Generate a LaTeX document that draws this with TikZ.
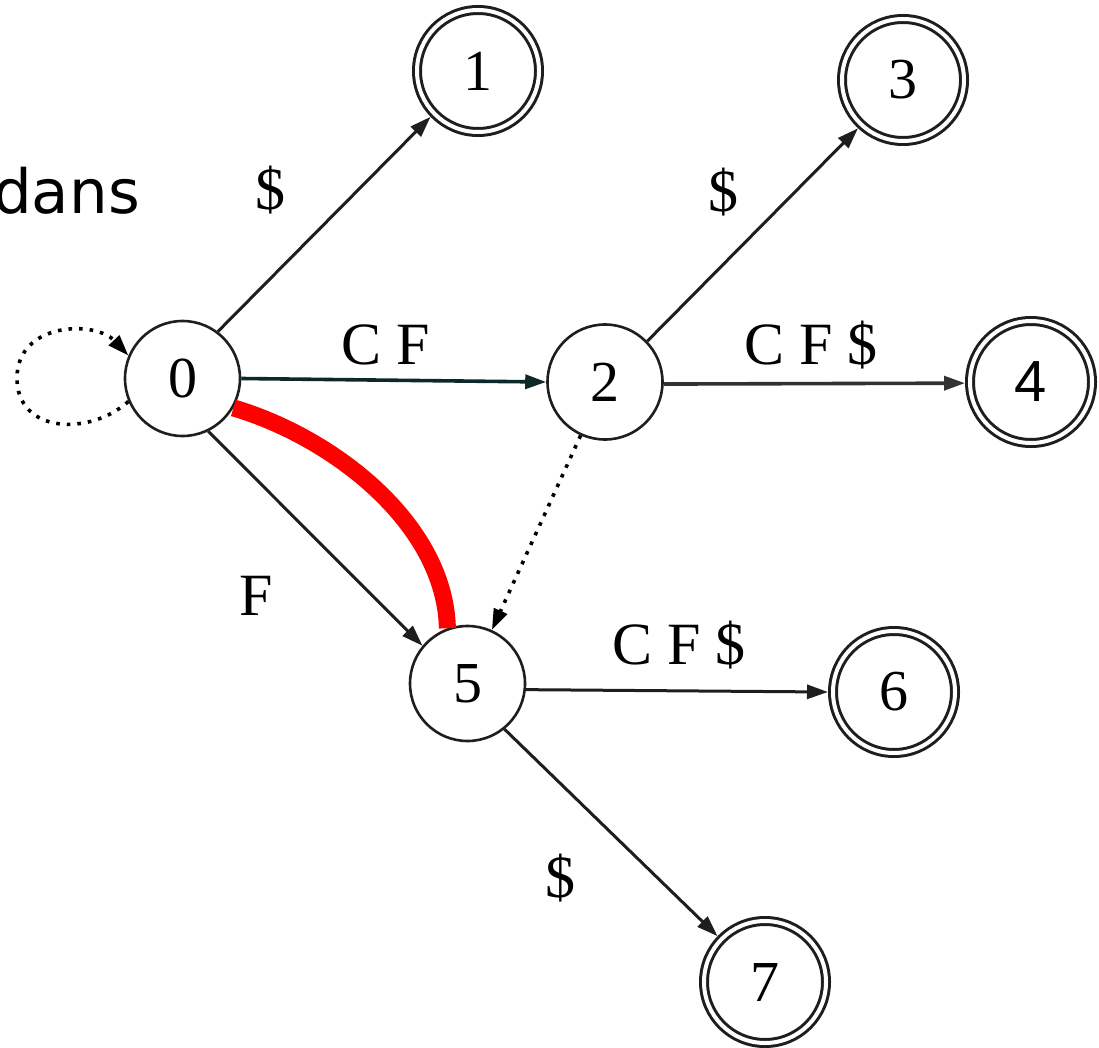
\documentclass[tikz,border=0pt]{standalone}
\usepackage{fontspec}
\setmainfont{Liberation Serif}
\newfontfamily\dejavu{DejaVu Sans}
\newfontfamily\libsans{Liberation Sans}
\usetikzlibrary{arrows.meta}
\definecolor{edgecol}{RGB}{30,30,30}
\definecolor{tealcol}{RGB}{12,40,40}
\definecolor{graycol}{RGB}{50,50,50}
\begin{document}
\begin{tikzpicture}[x=1pt,y=-1pt,
  state/.style={circle,draw=edgecol,line width=2.6pt,minimum size=115pt,inner sep=0pt,
    font=\fontsize{58}{60}\selectfont},
  accept/.style={circle,draw=edgecol,line width=3pt,double=white,double distance=4pt,
    minimum size=122pt,inner sep=0pt,outer sep=5pt,font=\fontsize{58}{60}\selectfont},
  lbl/.style={font=\fontsize{60}{62}\selectfont,inner sep=0pt},
  tip/.style={-{Triangle[length=21pt,width=14pt]}},
  edge/.style={tip,draw=edgecol,line width=3pt},
  dots/.style={tip,draw=black,line width=3.6pt,dash pattern=on 3.6pt off 7pt}
]
\useasboundingbox (0,0) rectangle (1099,1048);

\node[state]  (q0) at (182.5,378.5) {0};
\node[accept] (q1) at (478,71) {1};
\node[state]  (q2) at (605,382) {2};
\node[accept] (q3) at (903,80) {3};
\node[accept] (q4) at (1031,382) {\libsans 4};
\node[state]  (q5) at (467.5,683.5) {5};
\node[accept] (q6) at (894,692) {6};
\node[accept] (q7) at (765,982) {7};

\node[anchor=base east,inner sep=0pt,font=\dejavu\fontsize{61}{63}\selectfont] (dans) at (140,214) {dans};

% red arc
\draw[red,line width=17pt] (q0.-30) .. controls (335,438) and (445,525) .. (q5.110);

% edges
\draw[edge] (q0.53) -- (q1.224);
\draw[tip,draw=tealcol,line width=3.6pt] (q0.0) -- (q2.180);
\draw[edge] (q0.-64.5) -- (q5.140);
\draw[edge] (q2.44) -- (q3.227);
\draw[tip,draw=graycol,line width=3.6pt] (q2.-2) -- (q4.181);
\draw[edge] (q5.-6) -- (q6.180);
\draw[edge] (q5.-51.6) -- (q7.136);

% dotted
\draw[dots] (q2) -- (q5);
\coordinate (loopleft) at (17,378);
\draw[dots] (q0.203) .. controls (90,436) and (17,434) .. (loopleft)
  .. controls (17,322) and (95,320) .. (q0.157);

% labels
\node[lbl] (l01) at (270,190) {\$};
\node[lbl] (l02) at (386,345) {C F};
\node[lbl] (l05) at (256,596) {F};
\node[lbl] (l23) at (723,192) {\$};
\node[lbl] (l24) at (811,345) {C F \$};
\node[lbl] (l56) at (679,645) {C F \$};
\node[lbl] (l57) at (560,878) {\$};
\end{tikzpicture}
\end{document}
